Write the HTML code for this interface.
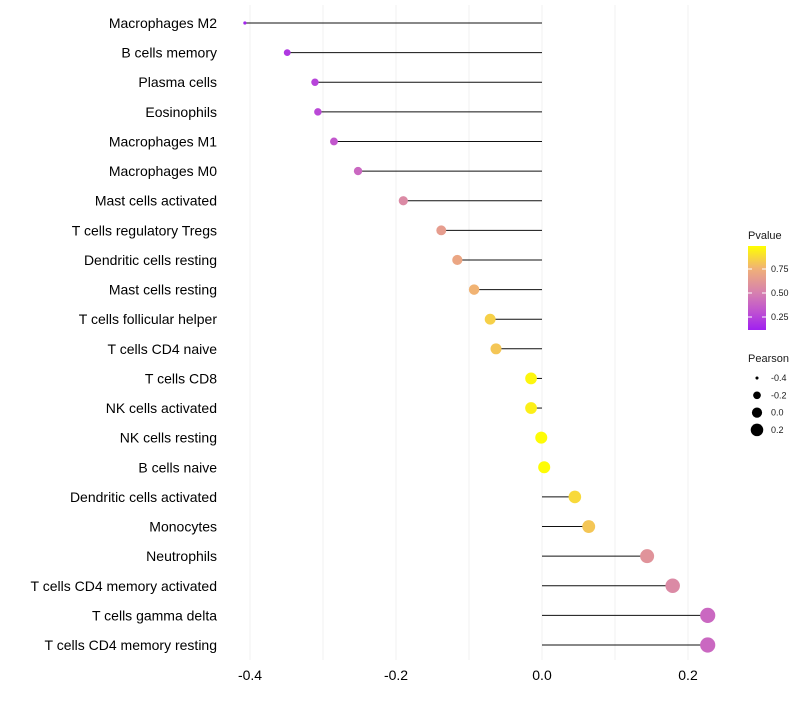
<!DOCTYPE html>
<html><head><meta charset="utf-8"><style>
body{margin:0;background:#fff;font-family:"Liberation Sans",sans-serif;}
</style></head><body>
<svg id="chart" width="800" height="700" xmlns="http://www.w3.org/2000/svg"></svg>
<script>
const categories=["Macrophages M2","B cells memory","Plasma cells","Eosinophils","Macrophages M1","Macrophages M0","Mast cells activated","T cells regulatory  Tregs ","Dendritic cells resting","Mast cells resting","T cells follicular helper","T cells CD4 naive","T cells CD8","NK cells activated","NK cells resting","B cells naive","Dendritic cells activated","Monocytes","Neutrophils","T cells CD4 memory activated","T cells gamma delta","T cells CD4 memory resting"];
const pearson=[-0.407,-0.349,-0.311,-0.307,-0.285,-0.252,-0.190,-0.138,-0.116,-0.093,-0.071,-0.063,-0.015,-0.015,-0.001,0.003,0.045,0.064,0.144,0.179,0.227,0.227];
const pvalue=[0.12,0.2,0.25,0.27,0.33,0.4,0.55,0.65,0.7,0.76,0.85,0.82,0.97,0.95,0.99,0.99,0.88,0.82,0.6,0.55,0.4,0.4];
const xTicks=[-0.4,-0.2,0.0,0.2];
const xTickLabels=["-0.4","-0.2","0.0","0.2"];
const sizeLegend=[-0.4,-0.2,0.0,0.2];
const pTicks=[0.25,0.5,0.75];

const NS="http://www.w3.org/2000/svg";
const svg=document.getElementById('chart');
const x=v=>542+v*730;
const y=i=>23+i*(622/21);
const knots=[[-0.41,1.5],[-0.35,3.4],[-0.25,4.2],[-0.1,5.2],[0,6],[0.23,7.6]];
function rad(v){if(v<=knots[0][0])return knots[0][1];for(let k=0;k<knots.length-1;k++){const a=knots[k],b=knots[k+1];if(v<=b[0])return a[1]+(b[1]-a[1])*(v-a[0])/(b[0]-a[0]);}return knots[knots.length-1][1];}
const stops=[[0.1,[160,32,240]],[0.3,[190,80,210]],[0.5,[214,128,176]],[0.75,[240,176,120]],[1.0,[255,255,0]]];
function col(p){p=Math.max(0.1,Math.min(1,p));for(let k=0;k<stops.length-1;k++){const a=stops[k],b=stops[k+1];if(p<=b[0]){const t=(p-a[0])/(b[0]-a[0]);const c=a[1].map((u,j)=>Math.round(u+(b[1][j]-u)*t));return `rgb(${c})`;}}return 'rgb(255,255,0)';}
function el(tag,attrs,parent){const e=document.createElementNS(NS,tag);for(const k in attrs)e.setAttribute(k,attrs[k]);(parent||svg).appendChild(e);return e;}

for(let v=-0.4;v<=0.25;v+=0.1){
 const g=el('line',{x1:x(v),x2:x(v),y1:5,y2:660,stroke:'#f0f0f0','stroke-width':1});
 
 
}
xTicks.forEach((v,i)=>{
 const t=el('text',{x:x(v),y:680,'text-anchor':'middle','font-size':14,fill:'#000'});
 t.textContent=xTickLabels[i];
 
 
});
categories.forEach((c,i)=>{
 const t=el('text',{x:217,y:y(i)+5,'text-anchor':'end','font-size':14,fill:'#000'});
 t.textContent=c;
 t.setAttribute('xml:space','preserve');
 
 
 const l=el('line',{x1:x(0),x2:x(pearson[i]),y1:y(i),y2:y(i),stroke:'#111','stroke-width':1});
 
 
 const p=el('circle',{cx:x(pearson[i]),cy:y(i),r:rad(pearson[i]),fill:col(pvalue[i])});
 
 
});
const lt=el('text',{x:748,y:239,'font-size':11,fill:'#1a1a1a'});lt.textContent='Pvalue';


const defs=el('defs',{});
const gr=el('linearGradient',{id:'pg',x1:0,y1:1,x2:0,y2:0},defs);
stops.forEach(s=>el('stop',{offset:((s[0]-0.115)/(0.99-0.115)).toFixed(3),'stop-color':`rgb(${s[1]})`},gr));
const bar=el('rect',{x:748,y:246,width:18,height:84,fill:'url(#pg)'});


pTicks.forEach(p=>{
 const yy=317-(p-0.25)*96;
 el('line',{x1:748,x2:752,y1:yy,y2:yy,stroke:'#fff'});el('line',{x1:762,x2:766,y1:yy,y2:yy,stroke:'#fff'});
 const t=el('text',{x:771,y:yy+3,'font-size':9,fill:'#1a1a1a'});t.textContent=p.toFixed(2);
 
 
});
const st=el('text',{x:748,y:362,'font-size':11,fill:'#1a1a1a'});st.textContent='Pearson';


sizeLegend.forEach((v,i)=>{
 const yy=378+i*17.3;
 const c=el('circle',{cx:757,cy:yy,r:rad(v)*0.85,fill:'#000'});
 
 
 const t=el('text',{x:771,y:yy+3,'font-size':9,fill:'#1a1a1a'});t.textContent=v.toFixed(1);
 
 
});
</script>
</body></html>
